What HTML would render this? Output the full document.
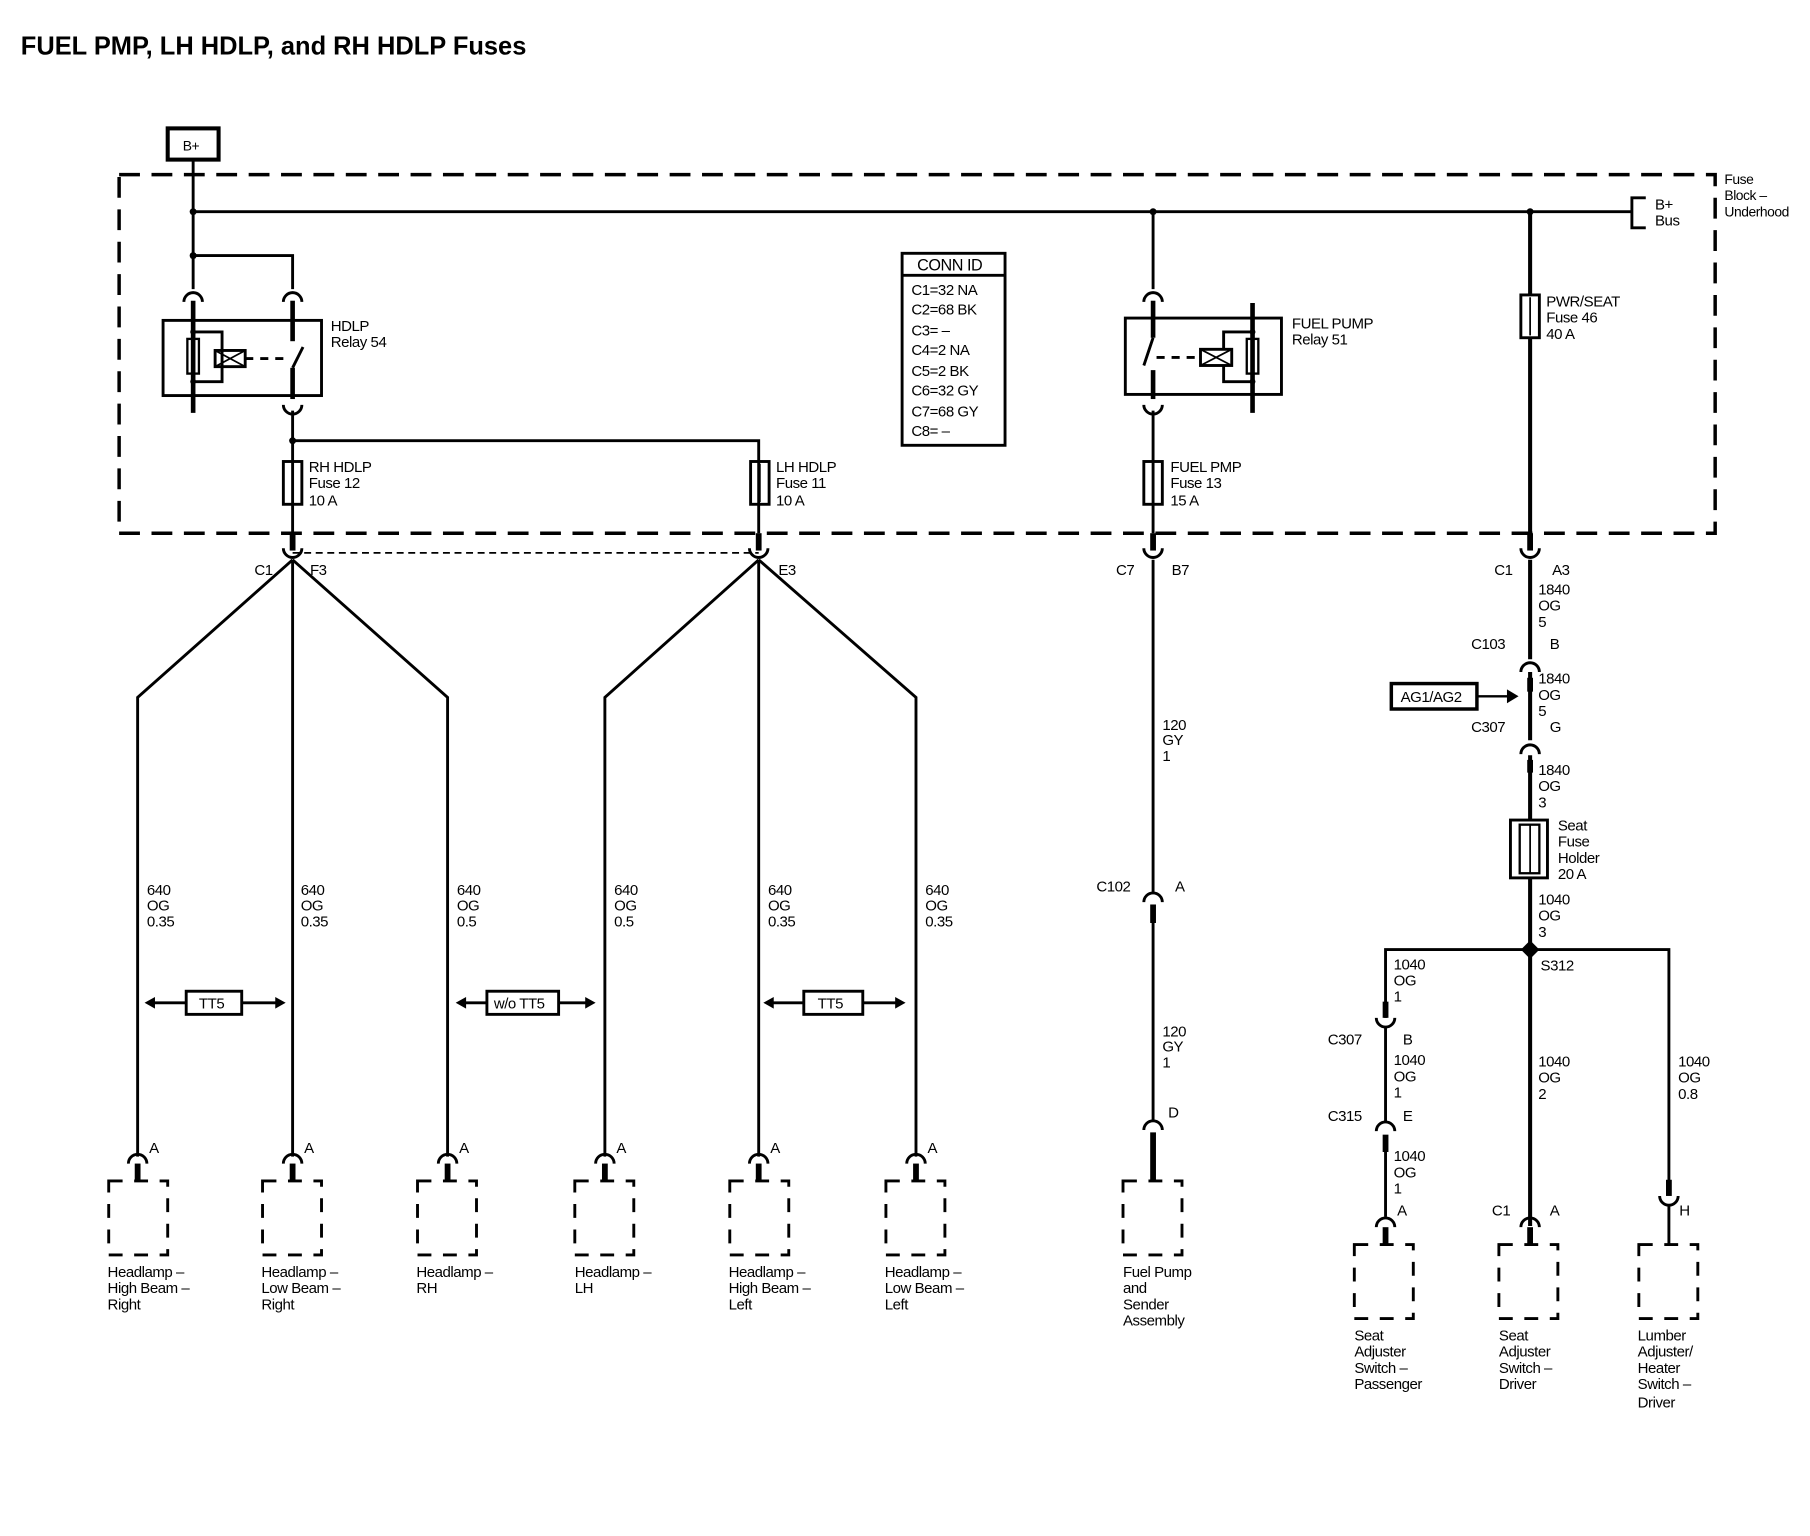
<!DOCTYPE html>
<html><head><meta charset="utf-8"><style>
html,body{margin:0;padding:0;background:#fff;}
svg{display:block;}
text{font-family:"Liberation Sans",sans-serif;font-size:13px;fill:#000;letter-spacing:-0.4px;}
.b{font-weight:bold;}
</style></head><body>
<svg width="1810" height="1536" viewBox="0 0 1565 1328" preserveAspectRatio="none" xmlns="http://www.w3.org/2000/svg">
<defs>
<g id="cu"><path d="M-8,-6 A8,8 0 0 0 8,-6" fill="none" stroke="#000" stroke-width="2.5"/></g>
<g id="cn"><path d="M-8,6 A8,8 0 0 1 8,6" fill="none" stroke="#000" stroke-width="2.5"/></g>
</defs>
<text x="18" y="47" class="b" style="font-size:22px;letter-spacing:0">FUEL PMP, LH HDLP, and RH HDLP Fuses</text>
<rect x="145" y="111" width="44" height="27" fill="none" stroke="#000" stroke-width="3.5"/>
<text x="158" y="130" style="font-size:12px">B+</text>
<rect x="103" y="151" width="1380" height="310" fill="none" stroke="#000" stroke-width="3" stroke-dasharray="18,10"/>
<text x="1491" y="159" style="font-size:12px">Fuse</text>
<text x="1491" y="173" style="font-size:12px">Block –</text>
<text x="1491" y="187" style="font-size:12px">Underhood</text>
<g stroke="#000" fill="none" stroke-width="2.5">
<line x1="167" y1="138" x2="167" y2="250"/>
<line x1="167" y1="183" x2="1410" y2="183"/>
<path d="M1423,171 H1411 V197 H1423"/>
<path d="M167,221 H253 V250"/>
<rect x="141" y="277" width="137" height="65" stroke-width="2.5"/>
<line x1="167" y1="260" x2="167" y2="357" stroke-width="4"/>
<line x1="253" y1="260" x2="253" y2="295" stroke-width="4"/>
<line x1="253" y1="318" x2="262" y2="300"/>
<line x1="253" y1="318" x2="253" y2="345" stroke-width="4"/>
<rect x="162" y="293" width="10" height="30" stroke-width="2"/>
<path d="M167,287 H192 V330 H167"/>
<rect x="186" y="303" width="26" height="14" stroke-width="2.5"/>
<path d="M186,303 L212,317 M212,303 L186,317" stroke-width="1.5"/>
<line x1="212" y1="310" x2="250" y2="310" stroke-dasharray="7,6"/>
<line x1="253" y1="355" x2="253" y2="461"/>
<path d="M253,381 H656 V461"/>
<rect x="245" y="399" width="16" height="37"/>
<rect x="649" y="399" width="16" height="37"/>
<line x1="997" y1="183" x2="997" y2="250"/>
<rect x="973" y="275" width="135" height="66"/>
<line x1="997" y1="260" x2="997" y2="292" stroke-width="4"/>
<line x1="997" y1="292" x2="989" y2="316"/>
<line x1="997" y1="320" x2="997" y2="345" stroke-width="4"/>
<line x1="1083" y1="262" x2="1083" y2="357" stroke-width="4"/>
<rect x="1078" y="293" width="10" height="30" stroke-width="2"/>
<path d="M1083,287 H1058 V330 H1083"/>
<rect x="1038" y="302" width="27" height="14" fill="#fff"/>
<path d="M1038,302 L1065,316 M1065,302 L1038,316" stroke-width="1.5"/>
<line x1="1000" y1="309" x2="1038" y2="309" stroke-dasharray="7,6"/>
<line x1="997" y1="355" x2="997" y2="461"/>
<rect x="989" y="399" width="16" height="37"/>
<line x1="1323" y1="183" x2="1323" y2="461" stroke-width="3.5"/>
<rect x="1315" y="255" width="16" height="37" fill="#fff"/>
<rect x="780" y="219" width="89" height="166"/>
<line x1="780" y1="238" x2="869" y2="238"/>
<line x1="253" y1="461" x2="253" y2="476" stroke-width="5"/>
<line x1="656" y1="461" x2="656" y2="476" stroke-width="5"/>
<line x1="997" y1="461" x2="997" y2="476" stroke-width="5"/>
<line x1="1323" y1="461" x2="1323" y2="476" stroke-width="5"/>
<line x1="253" y1="478" x2="656" y2="478" stroke-dasharray="6,4" stroke-width="1.5"/>
<path d="M253,484 L119,603 V1000 M253,484 V1000 M253,484 L387,603 V1000"/>
<path d="M656,484 L523,603 V1000 M656,484 V1000 M656,484 L792,603 V1000"/>
<line x1="130" y1="867" x2="242" y2="867"/>
<line x1="399" y1="867" x2="510" y2="867"/>
<line x1="665" y1="867" x2="778" y2="867"/>
<rect x="161" y="857" width="48" height="20" fill="#fff"/>
<rect x="421" y="857" width="62" height="20" fill="#fff"/>
<rect x="695" y="857" width="51" height="20" fill="#fff"/>
</g>
<g fill="#000">
<circle cx="167" cy="183" r="3"/><circle cx="167" cy="221" r="3"/><circle cx="997" cy="183" r="3"/><circle cx="1323" cy="183" r="3"/><circle cx="253" cy="381" r="3"/>
<circle cx="167" cy="287" r="2.5"/><circle cx="167" cy="330" r="2.5"/><circle cx="1083" cy="287" r="2.5"/><circle cx="1083" cy="330" r="2.5"/>
<path d="M125,867 l9,-5 v10z M247,867 l-9,-5 v10z M394,867 l9,-5 v10z M515,867 l-9,-5 v10z M660,867 l9,-5 v10z M783,867 l-9,-5 v10z"/>
</g>
<g stroke="#000" fill="none" stroke-width="1.5"><line x1="253" y1="401" x2="253" y2="434"/><line x1="657" y1="401" x2="657" y2="434"/><line x1="997" y1="401" x2="997" y2="434"/><line x1="1323" y1="257" x2="1323" y2="290"/></g>
<use href="#cn" x="167" y="255"/><use href="#cn" x="253" y="255"/>
<use href="#cu" x="253" y="356"/>
<use href="#cn" x="997" y="255"/><use href="#cu" x="997" y="356"/>
<use href="#cu" x="253" y="480"/><use href="#cu" x="656" y="480"/><use href="#cu" x="997" y="480"/><use href="#cu" x="1323" y="480"/>
<text x="267" y="408">RH HDLP</text><text x="267" y="422">Fuse 12</text><text x="267" y="437">10 A</text>
<text x="671" y="408">LH HDLP</text><text x="671" y="422">Fuse 11</text><text x="671" y="437">10 A</text>
<text x="1012" y="408">FUEL PMP</text><text x="1012" y="422">Fuse 13</text><text x="1012" y="437">15 A</text>
<text x="286" y="286">HDLP</text><text x="286" y="300">Relay 54</text>
<text x="1117" y="284">FUEL PUMP</text><text x="1117" y="298">Relay 51</text>
<text x="1337" y="265">PWR/SEAT</text><text x="1337" y="279">Fuse 46</text><text x="1337" y="293">40 A</text>
<text x="1431" y="181">B+</text><text x="1431" y="195">Bus</text>
<text x="793" y="234" style="font-size:14px">CONN ID</text>
<g style="font-size:14px"><text x="788" y="255">C1=32 NA</text><text x="788" y="272">C2=68 BK</text><text x="788" y="290">C3= –</text><text x="788" y="307">C4=2 NA</text><text x="788" y="325">C5=2 BK</text><text x="788" y="342">C6=32 GY</text><text x="788" y="360">C7=68 GY</text><text x="788" y="377">C8= –</text></g>
<text x="220" y="497">C1</text><text x="268" y="497">F3</text><text x="673" y="497">E3</text>
<text x="965" y="497">C7</text><text x="1013" y="497">B7</text>
<text x="1292" y="497">C1</text><text x="1342" y="497">A3</text>
<g>
<text x="127" y="774">640</text><text x="127" y="787">OG</text><text x="127" y="801">0.35</text>
<text x="260" y="774">640</text><text x="260" y="787">OG</text><text x="260" y="801">0.35</text>
<text x="395" y="774">640</text><text x="395" y="787">OG</text><text x="395" y="801">0.5</text>
<text x="531" y="774">640</text><text x="531" y="787">OG</text><text x="531" y="801">0.5</text>
<text x="664" y="774">640</text><text x="664" y="787">OG</text><text x="664" y="801">0.35</text>
<text x="800" y="774">640</text><text x="800" y="787">OG</text><text x="800" y="801">0.35</text>
</g>
<text x="172" y="872">TT5</text><text x="427" y="872">w/o TT5</text><text x="707" y="872">TT5</text>
<g stroke="#000" fill="none">
<g stroke-width="2.5">
<path d="M111,1006 A8,8 0 0 1 127,1006"/><path d="M245,1006 A8,8 0 0 1 261,1006"/><path d="M379,1006 A8,8 0 0 1 395,1006"/>
<path d="M515,1006 A8,8 0 0 1 531,1006"/><path d="M648,1006 A8,8 0 0 1 664,1006"/><path d="M784,1006 A8,8 0 0 1 800,1006"/>
</g>
<g stroke-width="5">
<line x1="119" y1="1006" x2="119" y2="1021"/><line x1="253" y1="1006" x2="253" y2="1021"/><line x1="387" y1="1006" x2="387" y2="1021"/>
<line x1="523" y1="1006" x2="523" y2="1021"/><line x1="656" y1="1006" x2="656" y2="1021"/><line x1="792" y1="1006" x2="792" y2="1021"/>
</g>
<g stroke-width="2.5" stroke-dasharray="12,10">
<rect x="94" y="1021" width="51" height="64"/><rect x="227" y="1021" width="51" height="64"/><rect x="361" y="1021" width="51" height="64"/>
<rect x="497" y="1021" width="51" height="64"/><rect x="631" y="1021" width="51" height="64"/><rect x="766" y="1021" width="51" height="64"/>
<rect x="971" y="1021" width="51" height="64"/>
<rect x="1171" y="1076" width="51" height="64"/><rect x="1296" y="1076" width="51" height="64"/><rect x="1417" y="1076" width="51" height="64"/>
</g>
</g>
<text x="129" y="997">A</text><text x="263" y="997">A</text><text x="397" y="997">A</text><text x="533" y="997">A</text><text x="666" y="997">A</text><text x="802" y="997">A</text>
<text x="93" y="1104">Headlamp –</text><text x="93" y="1118">High Beam –</text><text x="93" y="1132">Right</text>
<text x="226" y="1104">Headlamp –</text><text x="226" y="1118">Low Beam –</text><text x="226" y="1132">Right</text>
<text x="360" y="1104">Headlamp –</text><text x="360" y="1118">RH</text>
<text x="497" y="1104">Headlamp –</text><text x="497" y="1118">LH</text>
<text x="630" y="1104">Headlamp –</text><text x="630" y="1118">High Beam –</text><text x="630" y="1132">Left</text>
<text x="765" y="1104">Headlamp –</text><text x="765" y="1118">Low Beam –</text><text x="765" y="1132">Left</text>
<g stroke="#000" fill="none" stroke-width="2.5">
<line x1="997" y1="484" x2="997" y2="772"/>
<path d="M989,780 A8,8 0 0 1 1005,780"/>
<line x1="997" y1="782" x2="997" y2="798" stroke-width="5"/>
<line x1="997" y1="798" x2="997" y2="970"/>
<path d="M989,977 A8,8 0 0 1 1005,977"/>
<line x1="997" y1="979" x2="997" y2="1021" stroke-width="5"/>
</g>
<text x="1005" y="631">120</text><text x="1005" y="644">GY</text><text x="1005" y="658">1</text>
<text x="948" y="771">C102</text><text x="1016" y="771">A</text>
<text x="1005" y="896">120</text><text x="1005" y="909">GY</text><text x="1005" y="923">1</text>
<text x="1010" y="966">D</text>
<text x="971" y="1104">Fuel Pump</text><text x="971" y="1118">and</text><text x="971" y="1132">Sender</text><text x="971" y="1146">Assembly</text>
<g stroke="#000" fill="none" stroke-width="3.5">
<line x1="1323" y1="484" x2="1323" y2="570"/>
<path d="M1315,581 A8,8 0 0 1 1331,581" stroke-width="2.5"/>
<line x1="1323" y1="581" x2="1323" y2="640" />
<path d="M1315,652 A8,8 0 0 1 1331,652" stroke-width="2.5"/>
<line x1="1323" y1="653" x2="1323" y2="1060"/>
<rect x="1306" y="709" width="32" height="50" fill="#fff" stroke-width="2.5"/>
<rect x="1314" y="713" width="17" height="42" stroke-width="2"/>
<line x1="1323" y1="713" x2="1323" y2="755" stroke-width="1.5"/>
<path d="M1198,880 V821 H1443 V1028" stroke-width="2.5"/>
<line x1="1198" y1="866" x2="1198" y2="880" stroke-width="5"/>
<path d="M1190,880 A8,8 0 0 0 1206,880" stroke-width="2.5"/>
<line x1="1198" y1="888" x2="1198" y2="970" stroke-width="2.5"/>
<path d="M1190,978 A8,8 0 0 1 1206,978" stroke-width="2.5"/>
<line x1="1198" y1="981" x2="1198" y2="996" stroke-width="5"/>
<line x1="1198" y1="996" x2="1198" y2="1052" stroke-width="2.5"/>
<path d="M1190,1061 A8,8 0 0 1 1206,1061" stroke-width="2.5"/>
<line x1="1198" y1="1061" x2="1198" y2="1076" stroke-width="5"/>
<path d="M1315,1061 A8,8 0 0 1 1331,1061" stroke-width="2.5"/>
<line x1="1323" y1="1061" x2="1323" y2="1076" stroke-width="5"/>
<line x1="1443" y1="1020" x2="1443" y2="1034" stroke-width="5"/>
<path d="M1435,1034 A8,8 0 0 0 1451,1034" stroke-width="2.5"/>
<line x1="1443" y1="1042" x2="1443" y2="1076" stroke-width="2.5"/>
<rect x="1203" y="591" width="74" height="22" stroke-width="3"/>
<line x1="1277" y1="602" x2="1304" y2="602" stroke-width="2"/>
</g>
<line x1="1323" y1="586" x2="1323" y2="598" stroke="#000" stroke-width="5"/>
<line x1="1323" y1="657" x2="1323" y2="668" stroke="#000" stroke-width="5"/>
<path d="M1313,602 l-10,-6 v12z" fill="#000"/>
<path d="M1323,813 l8,8 l-8,8 l-8,-8z" fill="#000"/>
<text x="1211" y="607">AG1/AG2</text>
<text x="1330" y="514">1840</text><text x="1330" y="528">OG</text><text x="1330" y="542">5</text>
<text x="1272" y="561">C103</text><text x="1340" y="561">B</text>
<text x="1330" y="591">1840</text><text x="1330" y="605">OG</text><text x="1330" y="619">5</text>
<text x="1272" y="633">C307</text><text x="1340" y="633">G</text>
<text x="1330" y="670">1840</text><text x="1330" y="684">OG</text><text x="1330" y="698">3</text>
<text x="1347" y="718">Seat</text><text x="1347" y="732">Fuse</text><text x="1347" y="746">Holder</text><text x="1347" y="760">20 A</text>
<text x="1330" y="782">1040</text><text x="1330" y="796">OG</text><text x="1330" y="810">3</text>
<text x="1332" y="839">S312</text>
<text x="1205" y="838">1040</text><text x="1205" y="852">OG</text><text x="1205" y="866">1</text>
<text x="1148" y="903">C307</text><text x="1213" y="903">B</text>
<text x="1205" y="921">1040</text><text x="1205" y="935">OG</text><text x="1205" y="949">1</text>
<text x="1148" y="969">C315</text><text x="1213" y="969">E</text>
<text x="1205" y="1004">1040</text><text x="1205" y="1018">OG</text><text x="1205" y="1032">1</text>
<text x="1208" y="1051">A</text>
<text x="1330" y="922">1040</text><text x="1330" y="936">OG</text><text x="1330" y="950">2</text>
<text x="1290" y="1051">C1</text><text x="1340" y="1051">A</text>
<text x="1451" y="922">1040</text><text x="1451" y="936">OG</text><text x="1451" y="950">0.8</text>
<text x="1452" y="1051">H</text>
<text x="1171" y="1159">Seat</text><text x="1171" y="1173">Adjuster</text><text x="1171" y="1187">Switch –</text><text x="1171" y="1201">Passenger</text>
<text x="1296" y="1159">Seat</text><text x="1296" y="1173">Adjuster</text><text x="1296" y="1187">Switch –</text><text x="1296" y="1201">Driver</text>
<text x="1416" y="1159">Lumber</text><text x="1416" y="1173">Adjuster/</text><text x="1416" y="1187">Heater</text><text x="1416" y="1201">Switch –</text><text x="1416" y="1217">Driver</text>
</svg>
</body></html>
